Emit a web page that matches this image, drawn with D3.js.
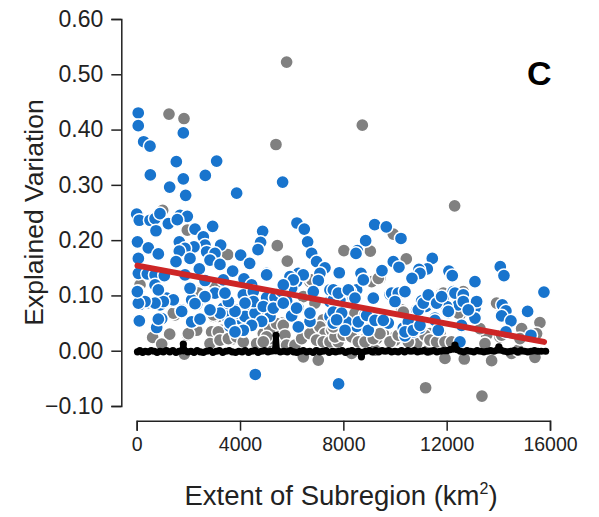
<!DOCTYPE html>
<html>
<head>
<meta charset="utf-8">
<script src="https://cdn.jsdelivr.net/npm/d3@7"></script>
<style>
body { margin: 0; background: #fff; }
text { font-family: "Liberation Sans", Arial, sans-serif; }
</style>
</head>
<body>
<svg id="chart" width="599" height="517"></svg>
<script>
var xTicks = [0, 4000, 8000, 12000, 16000];
var yTicks = [-0.10, 0, 0.10, 0.20, 0.30, 0.40, 0.50, 0.60];

var grayX = [1250,1831,5804,5391,1005,8734,12308,1960,5443,3521,5830,8023,618,1276,967,1973,2295,1482,2837,2966,3289,3224,3740,3998,3160,2386,128,6449,7030,1844,5288,5610,5675,4901,6191,6449,6836,7223,7352,7610,7868,7094,5030,4643,6900,6449,6707,3030,2966,5417,5159,
  9044,9934,10437,9418,9096,11185,13365,11934,12682,13740,15417,15610,14901,14836,15481,13998,14062,13546,13288,13482,11805,12514,11740,11353,12000,10837,10000,9547,9289,8773,8386,8000,8321,9225,10257,10000,14514,14772,11289,12127,8386,
  1418,2321,2000,2900,3160,2837,3224,3550,3870,4127,5159,5417,5675,5030,4901,5740,5804,6127,6385,6707,7094,7288,7546,7739,6965,7223,7481,7800,2966,2386,6772,
  7676,8000,8322,8580,8838,9160,9418,9805,10127,10515,11160,11353,11611,11933,12190,11869,12643,12449,13288,13482,13933,14127,14901,14836,9095,9354,8450,10321,7612];
var grayY = [.428,.420,.522,.373,.254,.408,.262,.218,.190,.174,.162,.181,.024,.030,.012,.028,.037,.065,.013,.034,.037,.019,.022,.031,.062,.107,.119,-.011,-.017,-.006,.044,.050,.025,.031,.013,.025,.028,.056,.031,.025,.028,.013,.013,.013,.086,.098,.125,.119,.062,.028,.022,
  .180,.211,.166,.131,.125,-.067,-.082,-.014,-.015,-.018,-.012,.051,.039,.022,.031,.083,.025,.028,.041,.013,.104,.065,.031,.031,.016,.013,.025,.031,.022,.019,.025,.025,-.005,.001,.074,.019,-.005,.001,.001,.013,.062,
  .068,.037,.031,.034,.034,.013,.019,.022,.025,.016,.040,.049,.046,.025,.016,.028,.010,.010,.022,.031,.043,.031,.037,.025,.019,.016,.016,.016,.065,.104,.128,
  .025,.028,.025,.016,.016,.022,.031,.016,.028,.016,.028,.019,.016,.016,.016,.104,.107,.068,.040,.013,.086,.028,.040,.022,.125,.131,.068,.070,.043];

var blueX = [60,60,270,515,1534,3095,528,1805,1805,2656,1276,1895,3869,5649,
  0,100,515,710,900,1676,1960,1225,1573,747,2257,2940,2579,1650,30,450,838,64,2644,2218,1870,1650,3250,2708,3030,2063,1521,2837,3224,4024,4372,4875,4798,4695,6204,6488,6617,6772,6965,7288,7094,7842,5030,3714,2424,64,412,710,1070,1870,2644,3353,4153,4450,6449,6256,5933,6191,5998,7030,6836,710,863,64,2063,2644,3030,3418,4127,4514,5030,5353,5804,5610,128,450,710,902,1160,1418,1740,2128,2321,2837,3585,3353,3482,3869,4256,4192,3934,4772,5288,5159,4837,4385,6256,6707,6256,5998,6707,7546,7804,7481,7868,8191,7481,7933,8126,8062,7610,102,967,773,2192,2450,3611,3805,4127,4591,7816,
  9212,9663,10231,8863,8541,8489,9934,10153,11443,11250,10927,10966,10656,9495,8683,8773,8515,8257,8386,9160,9805,9999,10360,10128,12088,12217,13095,13185,14075,14217,15765,15133,15262,14152,14294,14127,14488,14294,11289,11031,11198,10837,11547,11869,12256,12385,12669,12669,13095,12837,12063,12450,12000,13095,11547,11676,12579,12514,9741,9225,8967,8838,8515,8064,7935,10966,10708,10386,10515,10321,9547,10966,
  3611,3934,4192,4579,4514,4901,5288,5675,6191,6707,6256,4837,4450,4127,3805,4192,3805,3224,3550,3030,3418,2644,2257,1740,1418,1031,709,322,64,25,838,2063,102,838,2128,2450,2837,5030,6449,6062,5675,7481,7610,7610,
  7612,7805,8192,8450,8773,9160,8128,7935,7741,8064,8580,8966,8902,9224,9740,9547,10515,10386,10708,10966,10902,11095,11288,11611,11804,12063,12320,12643,12643,13159,13095,12836,11546,11676,12578,9870,10127,10385,9999];
var blueY = [.430,.407,.378,.370,.342,.343,.318,.394,.311,.317,.296,.281,.285,.305,
  .247,.236,.236,.239,.248,.245,.243,.230,.237,.217,.220,.225,.206,.197,.197,.186,.175,.167,.191,.188,.185,.180,.191,.179,.176,.167,.161,.164,.156,.173,.158,.216,.196,.183,.231,.220,.197,.176,.161,.150,.140,.141,.140,.144,.148,.140,.139,.137,.136,.137,.127,.128,.130,.119,.136,.140,.134,.125,.113,.127,.107,.119,.110,.107,.112,.096,.104,.104,.101,.107,.096,.096,.090,.107,.084,.087,.086,.083,.095,.090,.074,.092,.084,.074,.089,.077,.062,.074,.080,.062,.056,.074,.077,.062,.053,.056,.077,.066,.045,.063,.053,.104,.104,.089,.092,.107,.062,.068,.050,.040,.050,.054,.058,.042,.053,.057,.044,.036,.036,-.043,-.060,
  .228,.224,.203,.199,.181,.176,.161,.151,.167,.148,.147,.140,.131,.145,.140,.128,.110,.107,.095,.095,.102,.089,.107,.101,.144,.136,.125,.089,.152,.136,.106,.071,.028,.083,.072,.063,.054,.034,.101,.090,.080,.074,.086,.096,.107,.099,.099,.089,.077,.077,.069,.083,.080,.059,.059,.037,.044,.016,.050,.059,.039,.065,.044,.051,.067,.041,.034,.027,.053,.041,.059,.053,
  .050,.068,.062,.068,.089,.080,.077,.086,.077,.068,.043,.053,.046,.037,.034,.086,.071,.068,.089,.104,.104,.098,.085,.071,.092,.089,.086,.089,.086,.107,.110,.113,.054,.057,.052,.057,.074,.137,.137,.128,.119,.110,.092,.070,
  .110,.104,.110,.095,.128,.095,.052,.068,.056,.037,.052,.037,.064,.055,.050,.055,.052,.034,.037,.046,.074,.086,.101,.086,.098,.071,.104,.101,.089,.089,.059,.074,.055,.037,.046,.104,.104,.107,.089];

var nullX = [30,120,230,330,450,560,680,790,900,1030,
  1150,1280,1400,1520,1640,1750,1805,1860,1980,2100,
  2220,2340,2460,2580,2700,2830,2950,3080,3200,3330,
  3450,3580,3700,3830,3950,4080,4200,4330,4450,4580,
  4700,4830,4950,5080,5200,5340,5391,5440,5560,5700,
  5830,5950,6080,6200,6330,6450,6580,6700,6830,6950,
  7080,7200,7330,7450,7580,7700,7830,7950,8080,8200,
  8330,8450,8580,8660,8700,8740,8860,9000,9120,9250,
  9370,9500,9620,9750,9870,10000,10120,10250,10370,10500,
  10620,10750,10870,11000,11120,11250,11370,11500,11620,11750,
  11870,12000,12130,12260,12320,12400,12530,12660,12790,12920,
  13050,13180,13310,13440,13570,13700,13830,13950,14020,14100,
  14230,14360,14490,14620,14750,14880,15010,15140,15270,15400,
  15530,15660,15830];
var nullY = [-.002,.000,-.003,-.001,-.002,.000,-.001,-.003,-.001,-.002,
  .000,-.002,.000,-.003,-.001,.000,.012,.000,-.002,-.001,
  -.003,.000,-.002,-.003,-.001,.000,-.003,-.001,.000,-.003,
  -.001,.000,-.002,-.003,-.001,-.002,.000,-.003,-.001,.000,
  -.003,-.001,.000,-.002,-.001,.000,.028,.000,-.002,-.001,
  -.002,.000,-.002,-.003,-.001,.000,-.002,-.001,-.003,.000,
  -.002,-.001,.000,-.003,-.001,-.002,-.001,.000,-.003,-.001,
  .000,-.002,-.001,-.003,-.011,-.003,-.001,.000,-.002,.000,
  -.002,.000,-.001,.000,-.002,-.001,-.002,.000,-.002,.000,
  -.001,.000,-.002,-.001,.000,-.002,-.001,.000,-.002,-.001,
  .000,.000,.002,.003,.010,.002,-.001,-.002,.000,-.001,
  -.002,.000,-.001,-.002,-.001,.000,-.001,.001,.007,.001,
  -.001,-.002,-.001,.000,-.002,.000,-.001,-.002,-.001,.000,
  -.001,-.001,-.001];

var trendX = [30, 15770];
var trendY = [.154, .016];

var svg = d3.select("#chart");

var x = d3.scaleLinear().domain([0, 16000]).range([136.7, 550]);
var y = d3.scaleLinear().domain([-0.10, 0.60]).range([406, 19]);

function add_dots(xs, ys, colour, r, ring)
{
    svg.append("g").selectAll("circle")
	.data(xs)
	.enter().append("circle")
	.attr("cx", function(d) { return x(d); })
	.attr("cy", function(d, i) { return y(ys[i]); })
	.attr("r", r)
	.attr("fill", colour)
	.attr("stroke", "white")
	.attr("stroke-width", ring);
}

add_dots(grayX, grayY, "#808080", 6.6, 1.5);
add_dots(blueX, blueY, "#1874CD", 6.6, 1.5);

var line = d3.line()
    .x(function(d) { return x(d[0]); })
    .y(function(d) { return y(d[1]); });

svg.append("path")
    .attr("d", line(d3.zip(nullX, nullY)))
    .attr("fill", "none")
    .attr("stroke", "black")
    .attr("stroke-width", 5.5)
    .attr("stroke-linecap", "round")
    .attr("stroke-linejoin", "round");

// the black band is lumpy in the original, a small dot on each vertex gets close
add_dots(nullX, nullY, "black", 3.6, 0);

svg.append("path")
    .attr("d", line(d3.zip(trendX, trendY)))
    .attr("fill", "none")
    .attr("stroke", "#CD2626")
    .attr("stroke-width", 6)
    .attr("stroke-linecap", "round");

var xAxis = d3.axisBottom(x).tickValues(xTicks).tickFormat(d3.format("d")).tickSize(10).tickPadding(6);
var yAxis = d3.axisLeft(y).tickValues(yTicks).tickSize(10).tickPadding(8)
    .tickFormat(function(d) { return d3.format(".2f")(Math.abs(d) < 1e-9 ? 0 : d).replace("-", "\u2212"); });

var gx = svg.append("g").attr("transform", "translate(0,420.7)").call(xAxis);
var gy = svg.append("g").attr("transform", "translate(121.3,0)").call(yAxis);

gx.selectAll("text").attr("font-size", 19.5).attr("font-family", "Liberation Sans").attr("fill", "#222");
gy.selectAll("text").attr("font-size", 23).attr("font-family", "Liberation Sans").attr("fill", "#222");
svg.selectAll(".domain, .tick line").attr("stroke", "#222").attr("stroke-width", 1.5);

svg.append("text")
    .attr("x", 527)
    .attr("y", 85)
    .attr("font-size", 34)
    .attr("font-weight", "bold")
    .attr("fill", "black")
    .text("C");

svg.append("text")
    .attr("transform", "translate(43,212.5) rotate(-90)")
    .attr("text-anchor", "middle")
    .attr("font-size", 26.5)
    .attr("fill", "#222")
    .text("Explained Variation");

var xTitle = svg.append("text")
    .attr("x", 341)
    .attr("y", 505)
    .attr("text-anchor", "middle")
    .attr("font-size", 27.5)
    .attr("fill", "#222");
xTitle.append("tspan").text("Extent of Subregion (km");
xTitle.append("tspan").attr("font-size", 16).attr("dy", -11).text("2");
xTitle.append("tspan").attr("dy", 11).text(")");
</script>
</body>
</html>
